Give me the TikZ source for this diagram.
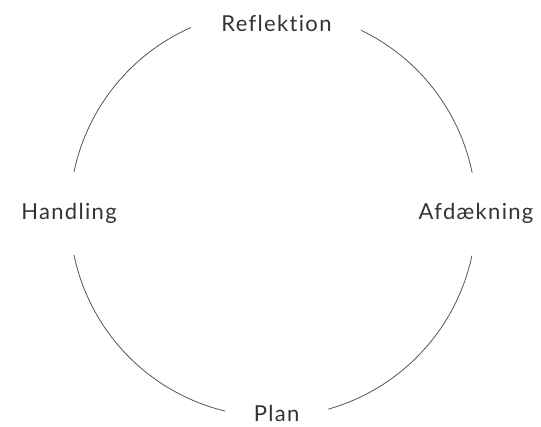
\documentclass[tikz,border=0pt]{standalone}
\usepackage{fontspec}
\setmainfont{Lato}[LetterSpace=6,Ligatures=NoCommon]
\definecolor{txt}{HTML}{333333}
\definecolor{ln}{HTML}{555555}
\begin{document}
\begin{tikzpicture}[x=1pt,y=-1pt,
  lbl/.style={anchor=base,text=txt,font=\fontsize{22}{24}\selectfont,inner sep=0pt},
  arcline/.style={draw=ln,line width=0.8pt}]
\useasboundingbox (0,0) rectangle (541,426);
\coordinate (c) at (273,213.5);
\node[lbl] (refl) at (276.5,31.5) {Reflektion};
\node[lbl] (hand) at (69,219.5) {Handling};
\node[lbl] (afd) at (476,219.5) {Afdækning};
\node[lbl] (plan) at (276.7,421) {Plan};
\draw[arcline] ([shift={(-64.3:203.3)}]c) arc[start angle=-64.3,end angle=-11.6,radius=203.3];
\draw[arcline] ([shift={(12:203.3)}]c) arc[start angle=12,end angle=74.2,radius=203.3];
\draw[arcline] ([shift={(103.6:203.3)}]c) arc[start angle=103.6,end angle=168.2,radius=203.3];
\draw[arcline] ([shift={(191.8:203.3)}]c) arc[start angle=191.8,end angle=246.2,radius=203.3];
\end{tikzpicture}
\end{document}
